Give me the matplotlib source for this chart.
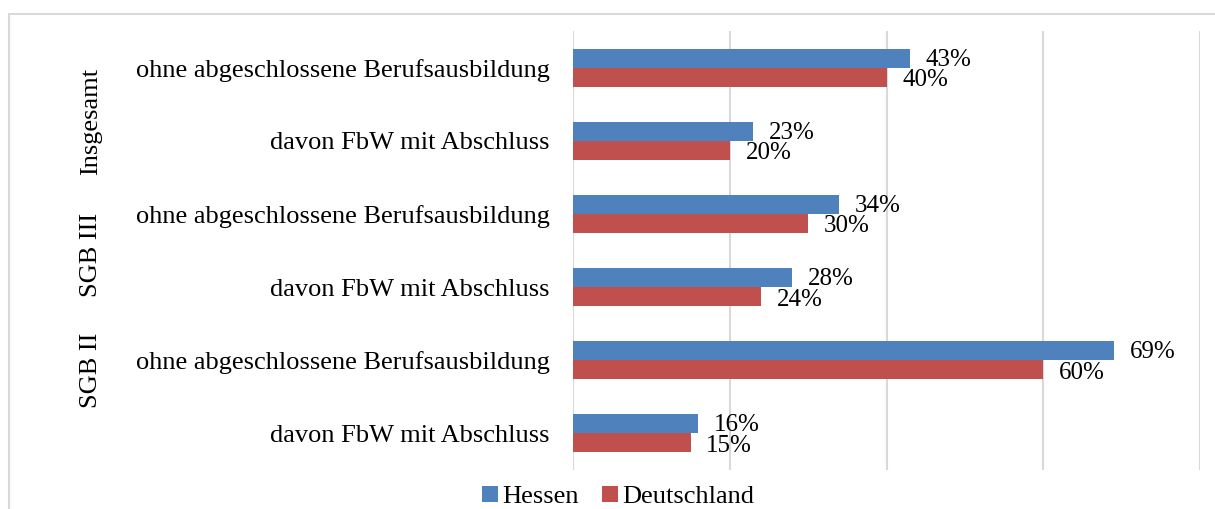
"""Hessen vs Deutschland: Anteil ohne abgeschlossene Berufsausbildung (horizontal bars)."""

import matplotlib
matplotlib.use("Agg")
import matplotlib.pyplot as plt
import numpy as np
from matplotlib.patches import Rectangle

plt.rcParams["font.family"] = ["Liberation Serif", "DejaVu Serif"]

# ── Data ─────────────────────────────────────────────────────────────────
categories = [
    "ohne abgeschlossene Berufsausbildung",
    "davon FbW mit Abschluss",
    "ohne abgeschlossene Berufsausbildung",
    "davon FbW mit Abschluss",
    "ohne abgeschlossene Berufsausbildung",
    "davon FbW mit Abschluss",
]
groups = ["Insgesamt", "SGB III", "SGB II"]
hessen = [43, 23, 34, 28, 69, 16]
deutschland = [40, 20, 30, 24, 60, 15]

BLUE = "#4F81BD"
RED = "#C0504D"
FS = 19

W, H = 1215, 509
fig = plt.figure(figsize=(W / 100, H / 100), dpi=100)
ax = fig.add_axes([573 / W, 1 - 470 / H, (1200 - 573) / W, (470 - 31) / H])

y = np.arange(len(categories))
bh = 0.26
ax.barh(y - bh / 2, hessen, height=bh, color=BLUE, label="Hessen")
ax.barh(y + bh / 2, deutschland, height=bh, color=RED, label="Deutschland")

for yi, v in zip(y, hessen):
    ax.text(v + 2.0, yi - bh / 2 + 0.02, f"{v}%", va="center", ha="left", fontsize=18)
for yi, v in zip(y, deutschland):
    ax.text(v + 2.0, yi + bh / 2 + 0.04, f"{v}%", va="center", ha="left", fontsize=18)

ax.set_xlim(0, 80)
ax.set_ylim(len(categories) - 0.5, -0.5)
ax.set_xticks([0, 20, 40, 60, 80])
ax.xaxis.grid(True, color="#D9D9D9", linewidth=1.5)
ax.set_axisbelow(True)
ax.tick_params(axis="x", length=0, labelbottom=False)
ax.tick_params(axis="y", length=0, pad=17)
ax.set_yticks(y)
ax.set_yticklabels(categories, fontsize=FS)
for s in ["top", "right", "bottom", "left"]:
    ax.spines[s].set_visible(False)

# group labels, rotated, left of category labels
for name, ypx in zip(groups, [121, 255, 370]):
    fig.text(91 / W, 1 - ypx / H, name, rotation=90, ha="center", va="center",
             fontsize=FS)

ax.legend(loc="center", bbox_to_anchor=(618 / W, 1 - 497 / H),
          bbox_transform=fig.transFigure, ncol=2, frameon=False, fontsize=FS,
          handlelength=0.6, handleheight=0.6, handletextpad=0.15,
          columnspacing=0.9)

# light outer frame like the original chart area
fig.patches.append(Rectangle((9 / W, -0.1), (W + 20) / W, 1 - 14 / H + 0.1,
                             transform=fig.transFigure, fill=False,
                             edgecolor="#D9D9D9", linewidth=1.5))

fig.savefig("out.png", dpi=100)
